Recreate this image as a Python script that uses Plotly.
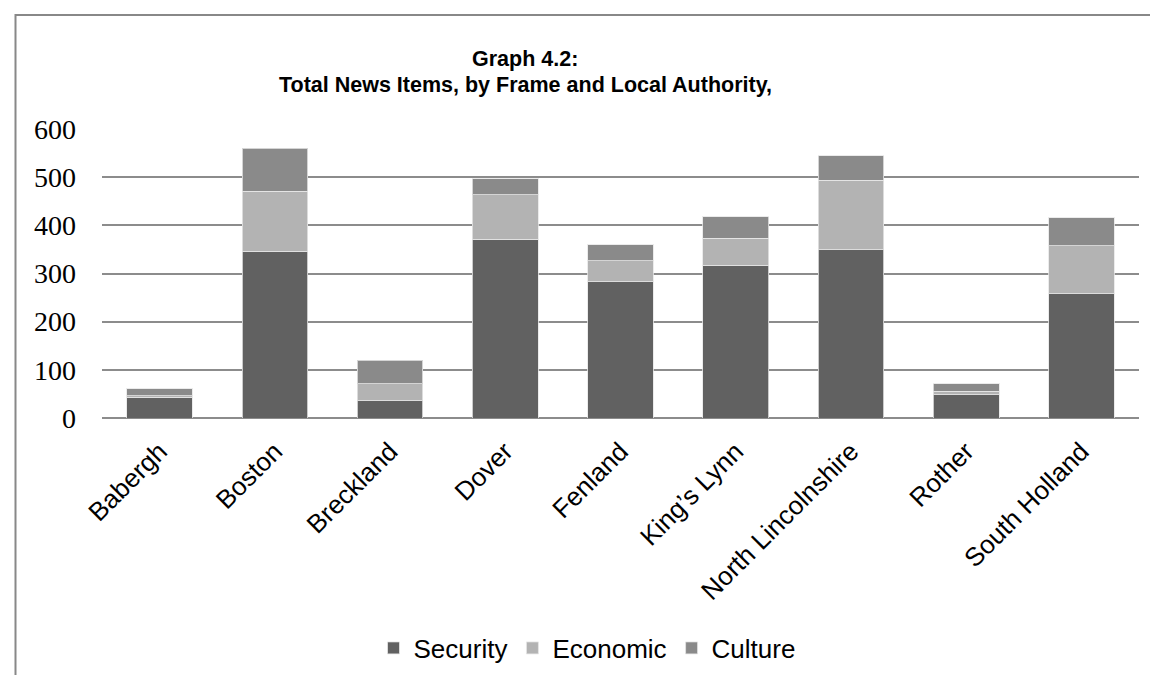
import plotly.graph_objects as go

categories = ["Babergh", "Boston", "Breckland", "Dover", "Fenland", "King\u2019s Lynn",
              "North Lincolnshire", "Rother", "South Holland"]
security = [43, 346, 36, 371, 283, 317, 349, 48, 258]
economic = [3, 125, 35, 92, 43, 56, 145, 8, 100]
culture = [15, 89, 49, 34, 34, 45, 50, 15, 58]
y_ticks = [0, 100, 200, 300, 400, 500, 600]

W, H = 1158, 675
L, R, T, B = 94, 27, 121, 265
pw, ph = W - L - R, H - T - B

def px(x):
    return (x - L) / pw

def py(y):
    return (H - B - y) / ph

fig = go.Figure()
for name, vals, col in [("Security", security, "#616161"),
                        ("Economic", economic, "#b3b3b3"),
                        ("Culture", culture, "#8a8a8a")]:
    fig.add_trace(go.Bar(x=categories, y=vals, name=name,
                         marker=dict(color=col, line=dict(color="rgba(230,230,230,0.8)", width=1))))

fig.update_layout(
    width=W, height=H,
    barmode="stack", bargap=0.43,
    margin=dict(l=L, r=R, t=T, b=B, autoexpand=False),
    plot_bgcolor="white", paper_bgcolor="white",
    showlegend=True,
    legend=dict(orientation="h", x=px(579), xanchor="center", y=py(640), yanchor="middle",
                font=dict(family="Liberation Sans, Arial", size=26, color="#000"),
                itemwidth=30, traceorder="normal"),
    yaxis=dict(range=[0, 600], tickvals=y_ticks, showgrid=True, gridcolor="#8c8c8c", gridwidth=2,
               zeroline=True, zerolinecolor="#8c8c8c", zerolinewidth=2,
               tickfont=dict(family="Liberation Serif, serif", size=28, color="#000"),
               ticklabelstandoff=25, fixedrange=True),
    xaxis=dict(tickangle=-45, tickfont=dict(family="Liberation Sans, Arial", size=26, color="#000"),
               showline=False, ticks="", ticklabelstandoff=12),
    font=dict(family="Liberation Sans, Arial"),
)

fig.add_annotation(text="<b>Graph 4.2:</b>", xref="paper", yref="paper",
                   x=px(517), y=py(51), xanchor="center", yanchor="middle", showarrow=False,
                   font=dict(family="Liberation Sans, Arial", size=21.5, color="#000"))
fig.add_annotation(text="<b>Total News Items, by Frame and Local Authority,</b>", xref="paper", yref="paper",
                   x=px(517), y=py(77), xanchor="center", yanchor="middle", showarrow=False,
                   font=dict(family="Liberation Sans, Arial", size=21.5, color="#000"))

fig.add_shape(type="path", xref="paper", yref="paper",
              path=f"M {px(7.5)} {py(680)} L {px(7.5)} {py(7)} L {px(1165)} {py(7)}",
              line=dict(color="#888888", width=2))

fig.write_html("out.html")
